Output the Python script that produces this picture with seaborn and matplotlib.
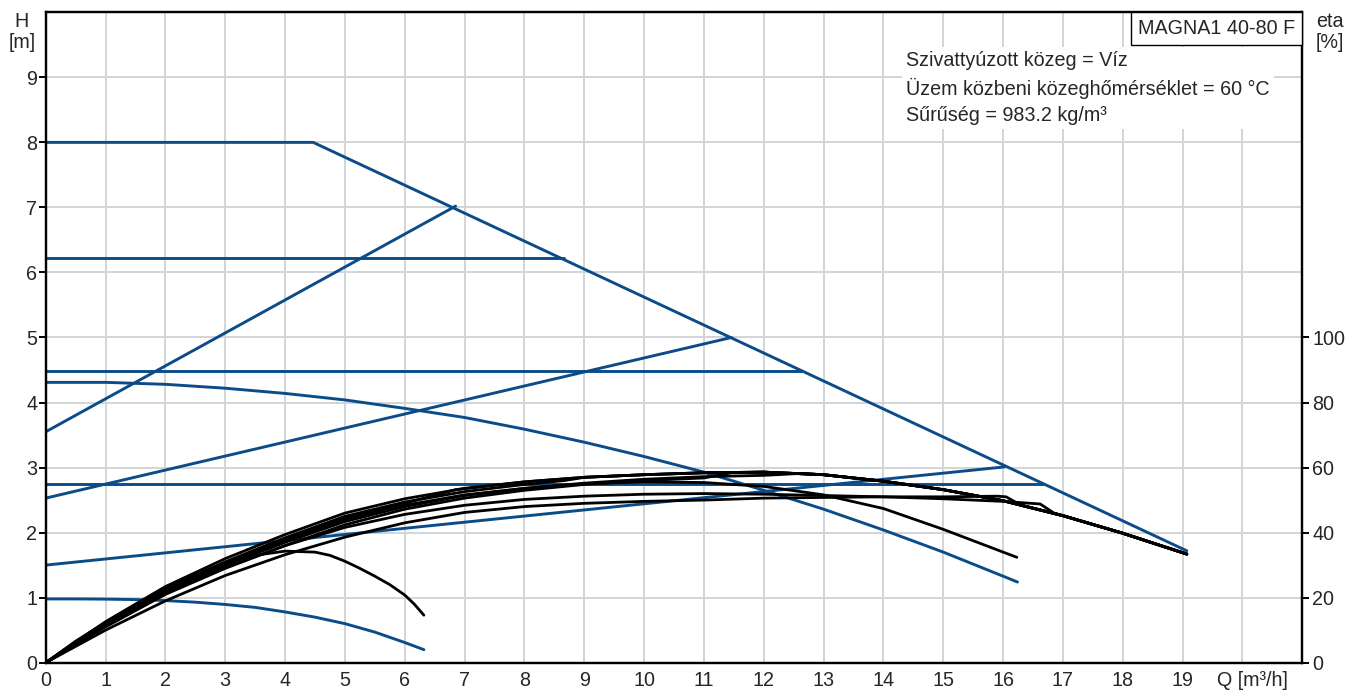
import matplotlib
matplotlib.use('Agg')
import matplotlib.pyplot as plt
import seaborn as sns
from matplotlib.offsetbox import AnchoredText
from matplotlib.transforms import ScaledTranslation

# ----------------------------
# Data
# ----------------------------
# blue H curves [m]
max_q = [0, 4.47, 19.07]
max_h = [8.0, 8.0, 1.72]

cp_levels = [6.22, 4.48, 2.75]
cp_qend = [8.67, 12.63, 16.66]

pp_q = [[0, 6.85], [0, 11.46], [0, 16.02]]
pp_h = [[3.55, 7.02], [2.53, 5.0], [1.50, 3.01]]

minhi_q = [0, 1, 2, 3, 4, 5, 6, 7, 8, 9, 10, 11, 12, 13, 14, 15, 16, 16.24]
minhi_h = [4.31, 4.31, 4.28, 4.22, 4.14, 4.04, 3.91, 3.77, 3.59, 3.39, 3.17,
           2.93, 2.65, 2.36, 2.04, 1.70, 1.33, 1.24]

minlo_q = [0, 0.5, 1, 1.5, 2, 2.5, 3, 3.5, 4, 4.5, 5, 5.5, 6, 6.32]
minlo_h = [0.98, 0.98, 0.977, 0.97, 0.955, 0.93, 0.895, 0.85, 0.78, 0.70,
           0.60, 0.47, 0.31, 0.20]

# black efficiency curves [%]
emax_q = [0, 1, 2, 3, 4, 5, 6, 7, 8, 9, 10, 11, 12, 13, 14, 15, 16, 17, 18, 19.07]
emax_e = [0, 12.6, 23.4, 32.0, 39.4, 46.0, 50.4, 53.6, 55.6, 57.0, 57.8, 58.4,
          58.6, 57.8, 55.8, 53.2, 49.8, 45.2, 39.8, 33.4]

ecp1_q = [0, 1, 2, 3, 4, 5, 6, 7, 8, 8.67]
ecp1_e = [0, 12.0, 22.6, 31.0, 38.4, 45.0, 49.4, 52.6, 54.8, 56.0]

epp1_q = [0, 1, 2, 3, 4, 5, 6, 6.85]
epp1_e = [0, 12.0, 22.4, 30.6, 38.0, 44.4, 49.0, 53.2]

ecp2_q = [0, 1, 2, 3, 4, 5, 6, 7, 8, 9, 10, 11, 12, 12.63]
ecp2_e = [0, 11.6, 21.8, 30.0, 37.0, 43.4, 48.0, 51.4, 53.6, 55.2, 56.4, 57.2, 57.6, 58.2]

epp2_q = [0, 1, 2, 3, 4, 5, 6, 7, 8, 9, 10, 11, 11.46]
epp2_e = [0, 11.2, 21.2, 29.2, 36.0, 42.4, 47.2, 50.6, 53.0, 54.8, 56.0, 56.8, 58.4]

ecp3_q = [0, 1, 2, 3, 4, 5, 6, 7, 8, 9, 10, 11, 12, 13, 14, 15, 16, 16.62, 16.85]
ecp3_e = [0, 11.0, 21.0, 29.0, 36.0, 41.6, 45.6, 48.4, 50.2, 51.2, 51.8, 52.0,
          51.8, 51.4, 51.0, 50.4, 49.6, 48.8, 46.0]

epp3_q = [0, 1, 2, 3, 4, 5, 6, 7, 8, 9, 10, 11, 12, 13, 14, 15, 15.9, 16.05, 16.3]
epp3_e = [0, 10.0, 19.0, 26.8, 33.2, 38.6, 43.0, 46.2, 48.0, 49.0, 49.6, 50.0,
          50.6, 50.8, 51.0, 51.0, 51.2, 51.0, 48.4]

eminhi_q = [0, 1, 2, 3, 4, 5, 6, 7, 8, 9, 10, 11, 12, 13, 14, 15, 16, 16.23]
eminhi_e = [0, 11.6, 22.0, 30.0, 37.6, 44.0, 48.4, 51.6, 53.6, 55.0, 55.6, 55.4,
            54.2, 51.6, 47.4, 41.0, 34.0, 32.4]

eminlo_q = [0, 0.5, 1, 1.5, 2, 2.5, 3, 3.5, 4, 4.5, 4.75, 5, 5.25, 5.5, 5.75,
            6, 6.16, 6.32]
eminlo_e = [0, 6.6, 12.4, 17.8, 22.8, 27.2, 30.6, 33.0, 34.3, 34.0, 33.0, 31.2,
            29.0, 26.6, 24.0, 20.8, 18.0, 14.6]

x_ticks = list(range(0, 21))
x_labels = [str(i) for i in range(0, 20)] + ['Q [m³/h]']
h_ticks = list(range(0, 10))
eta_ticks = [0, 20, 40, 60, 80, 100]

info_lines = ['Szivattyúzott közeg = Víz',
              'Üzem közbeni közeghőmérséklet = 60 °C',
              'Sűrűség = 983.2 kg/m³']
pump_name = 'MAGNA1 40-80 F'

# ----------------------------
# Style
# ----------------------------
sns.set_style('white')
plt.rcParams['font.family'] = ['Liberation Sans', 'DejaVu Sans']
BLUE = '#0b4c88'
GRID = '#d2d5d8'
FS = 14.2

fig = plt.figure(figsize=(13.58, 6.91), dpi=100)
ax = fig.add_axes([0.03365, 0.0410, 0.92533, 0.9412])
ax2 = ax.twinx()

ax.set_xlim(0, 21)
ax.set_ylim(0, 10)
ax2.set_ylim(0, 200)

# grid
for q in range(1, 21):
    ax.axvline(q, color=GRID, lw=1.4, zorder=0)
for h in range(1, 10):
    ax.axhline(h, color=GRID, lw=1.4, zorder=0)

# blue H curves
lw_b = 2.1
sns.lineplot(x=max_q, y=max_h, ax=ax, color=BLUE, lw=lw_b, sort=False, estimator=None)
for lvl, qe in zip(cp_levels, cp_qend):
    sns.lineplot(x=[0, qe], y=[lvl, lvl], ax=ax, color=BLUE, lw=lw_b, sort=False, estimator=None)
for qq, hh in zip(pp_q, pp_h):
    sns.lineplot(x=qq, y=hh, ax=ax, color=BLUE, lw=lw_b, sort=False, estimator=None)
sns.lineplot(x=minhi_q, y=minhi_h, ax=ax, color=BLUE, lw=lw_b, sort=False, estimator=None)
sns.lineplot(x=minlo_q, y=minlo_h, ax=ax, color=BLUE, lw=lw_b, sort=False, estimator=None)

# black efficiency curves; controlled curves continue along the max-curve efficiency
def with_max_tail(q, e):
    tail = [(qq, ee) for qq, ee in zip(emax_q, emax_e) if qq > q[-1] + 0.15]
    return q + [t[0] for t in tail], e + [t[1] for t in tail]

curves = [(emax_q, emax_e),
          with_max_tail(ecp1_q, ecp1_e),
          with_max_tail(epp1_q, epp1_e),
          with_max_tail(ecp2_q, ecp2_e),
          with_max_tail(epp2_q, epp2_e),
          with_max_tail(ecp3_q, ecp3_e),
          with_max_tail(epp3_q, epp3_e),
          (eminhi_q, eminhi_e),
          (eminlo_q, eminlo_e)]
for qq, ee in curves:
    sns.lineplot(x=qq, y=ee, ax=ax2, color='black', lw=2.0, sort=False, estimator=None)

# axes cosmetics
for a in (ax, ax2):
    for s in a.spines.values():
        s.set_color('black')
        s.set_linewidth(1.6)
    a.set_xlabel('')
    a.set_ylabel('')
ax.set_xticks(x_ticks)
ax.set_xticklabels(x_labels, fontsize=FS)
ax.set_yticks(h_ticks)
ax.set_yticklabels([str(t) for t in h_ticks], fontsize=FS)
ax2.set_yticks(eta_ticks)
ax2.set_yticklabels([str(t) for t in eta_ticks], fontsize=FS)
ax.tick_params(axis='both', direction='out', length=5, width=1.4, color='black', pad=1)
ax2.tick_params(axis='y', direction='out', length=5, width=1.4, color='black', pad=2)
qlbl = ax.get_xticklabels()[-1]
qlbl.set_transform(qlbl.get_transform() + ScaledTranslation(0.10, 0, fig.dpi_scale_trans))

# texts
fig.text(0.0162, 0.983, 'H\n[m]', ha='center', va='top', fontsize=FS, linespacing=1.12)
fig.text(0.9795, 0.983, 'eta\n[%]', ha='center', va='top', fontsize=FS, linespacing=1.12)

ax.text(0.6846, 0.94, '\n'.join(info_lines), transform=ax.transAxes, ha='left', va='top',
        fontsize=FS, linespacing=1.45, zorder=5,
        bbox=dict(facecolor='white', edgecolor='none', pad=3))

at = AnchoredText(pump_name, loc='upper right', borderpad=0, pad=0.36,
                  prop=dict(fontsize=FS), frameon=True)
at.patch.set_edgecolor('black')
at.patch.set_linewidth(1.0)
at.zorder = 6
ax2.add_artist(at)

fig.savefig('out.png', dpi=100)
